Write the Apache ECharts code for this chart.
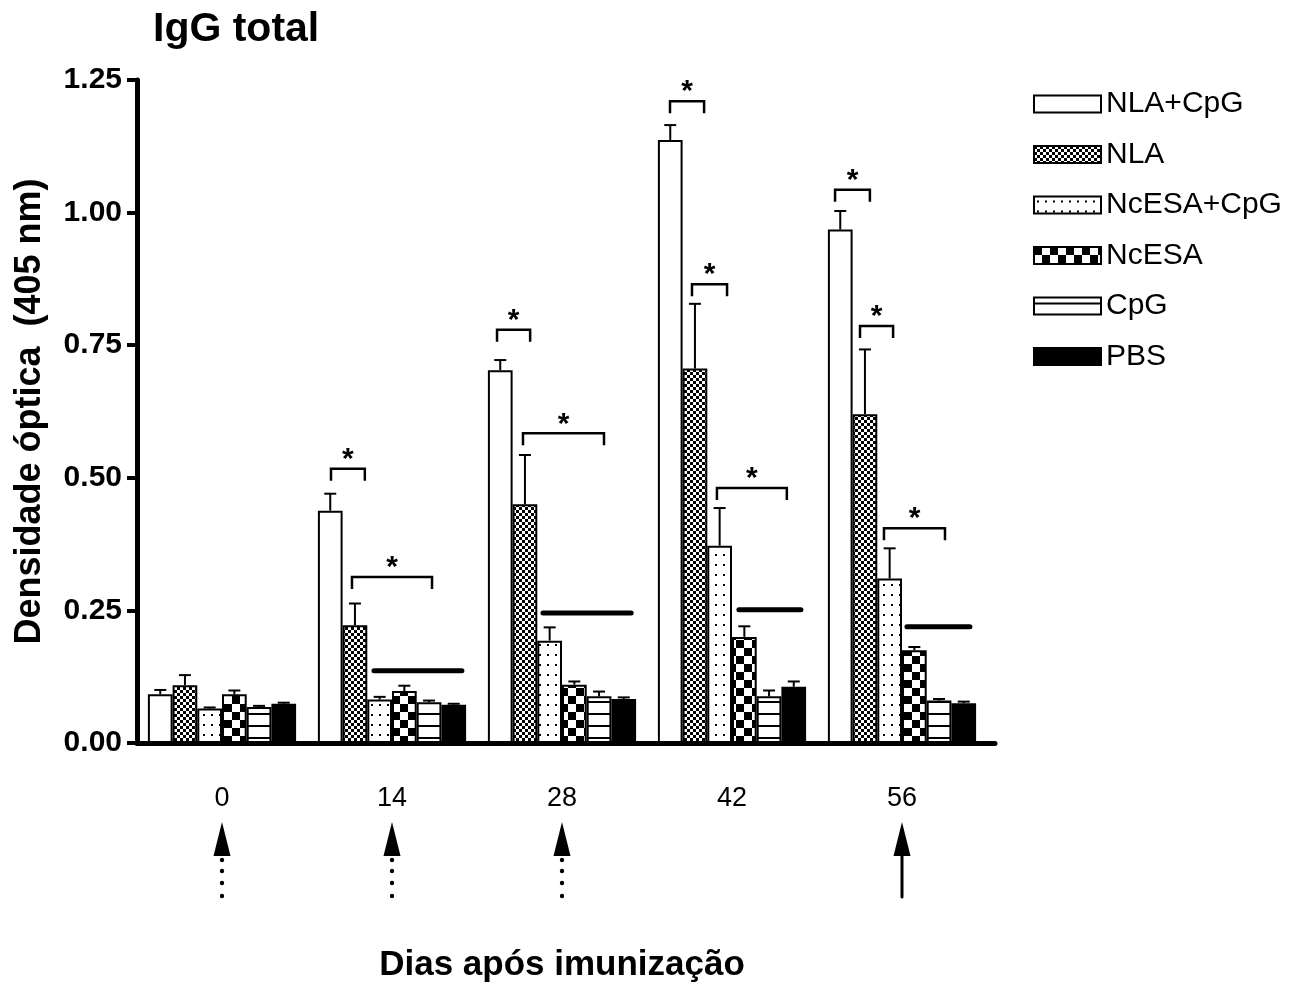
<!DOCTYPE html>
<html>
<head>
<meta charset="utf-8">
<script src="https://cdn.jsdelivr.net/npm/echarts@6/dist/echarts.min.js"></script>
<style>
  html, body { margin: 0; padding: 0; background: #fff; }
  #chart { width: 1299px; height: 982px; }
</style>
</head>
<body>
<div id="chart"></div>
<script>
// ---- data ----
const days = ['0', '14', '28', '42', '56'];
const groupNames = ['NLA+CpG', 'NLA', 'NcESA+CpG', 'NcESA', 'CpG', 'PBS'];

// mean optical density (405 nm) per group, one value per day
const nlaCpg    = [0.092, 0.438, 0.703, 1.137, 0.968];
const nla       = [0.109, 0.222, 0.450, 0.706, 0.620];
const ncesaCpg  = [0.065, 0.082, 0.193, 0.372, 0.310];
const ncesa     = [0.092, 0.098, 0.110, 0.200, 0.175];
const cpg       = [0.068, 0.077, 0.088, 0.088, 0.080];
const pbs       = [0.074, 0.072, 0.083, 0.106, 0.075];

// upper error (standard error) per group, one value per day
const nlaCpgErr   = [0.008, 0.032, 0.019, 0.028, 0.035];
const nlaErr      = [0.019, 0.041, 0.093, 0.122, 0.122];
const ncesaCpgErr = [0.002, 0.005, 0.025, 0.071, 0.057];
const ncesaErr    = [0.007, 0.010, 0.006, 0.020, 0.006];
const cpgErr      = [0.002, 0.003, 0.009, 0.011, 0.003];
const pbsErr      = [0.002, 0.002, 0.003, 0.010, 0.003];

// significance brackets: [day index, from bar slot, to bar slot, height (OD)]
const brackets = [
  [1, 0.53, 1.90, 0.517], [1, 1.38, 4.62, 0.313],
  [2, 0.37, 1.71, 0.779], [2, 1.42, 4.70, 0.584],
  [3, 0.49, 1.87, 1.210], [3, 1.38, 2.80, 0.865], [3, 2.39, 5.22, 0.481],
  [4, 0.29, 1.70, 1.043], [4, 1.30, 2.64, 0.786], [4, 2.27, 4.74, 0.405]
];
// plain grouping lines: [day index, from bar slot, to bar slot, height (OD)]
const groupLines = [
  [1, 2.27, 5.83, 0.136],
  [2, 2.23, 5.80, 0.245],
  [3, 3.28, 5.79, 0.251],
  [4, 3.20, 5.75, 0.219]
];
// immunization arrows: day index and whether the shaft is dotted (1) or solid (0)
const arrowDays   = [0, 1, 2, 4];
const arrowDotted = [1, 1, 1, 0];

// ---- styling helpers ----
const FONT = 'Liberation Sans, Arial, Helvetica, sans-serif';
const BAR_W = 24.7;

function pattern(w, h, draw) {
  const c = document.createElement('canvas');
  c.width = w; c.height = h;
  const g = c.getContext('2d');
  g.fillStyle = '#fff'; g.fillRect(0, 0, w, h);
  g.fillStyle = '#000';
  draw(g);
  return { image: c, repeat: 'repeat' };
}
const fills = [
  '#ffffff',
  pattern(6, 6, g => { g.fillRect(0, 0, 3, 3); g.fillRect(3, 3, 3, 3); }),
  pattern(8, 10, g => { g.fillRect(3, 4, 2, 2); }),
  pattern(16, 16, g => { g.fillRect(0, 0, 8, 8); g.fillRect(8, 8, 8, 8); }),
  pattern(4, 12, g => { g.fillRect(0, 5, 4, 2); }),
  '#000000'
];

const means = [nlaCpg, nla, ncesaCpg, ncesa, cpg, pbs];
const errs  = [nlaCpgErr, nlaErr, ncesaCpgErr, ncesaErr, cpgErr, pbsErr];

const barSeries = groupNames.map((name, i) => ({
  type: 'bar',
  name: name,
  data: means[i],
  barWidth: BAR_W,
  barGap: '0%',
  itemStyle: { color: fills[i], borderColor: '#000', borderWidth: 2 },
  z: 2
}));

const errData = [];
means.forEach((m, s) => m.forEach((v, c) => errData.push([c, s, v, v + errs[s][c]])));

const errorSeries = {
  type: 'custom',
  name: 'err',
  data: errData,
  encode: { x: 0, y: 3 },
  z: 3,
  silent: true,
  renderItem: function (params, api) {
    const c = api.value(0), s = api.value(1);
    const base = api.coord([c, api.value(2)]);
    const top = api.coord([c, api.value(3)]);
    const x = base[0] + (s - 2.5) * BAR_W;
    const st = { stroke: '#000', lineWidth: 2 };
    return {
      type: 'group',
      children: [
        { type: 'line', shape: { x1: x, y1: base[1], x2: x, y2: top[1] }, style: st },
        { type: 'line', shape: { x1: x - 6, y1: top[1], x2: x + 6, y2: top[1] }, style: st }
      ]
    };
  }
};

const bracketSeries = {
  type: 'custom',
  name: 'brackets',
  data: brackets,
  encode: { x: 0, y: 3 },
  z: 4,
  silent: true,
  renderItem: function (params, api) {
    const p = api.coord([api.value(0), api.value(3)]);
    const left = p[0] - 3 * BAR_W;
    const x1 = left + api.value(1) * BAR_W;
    const x2 = left + api.value(2) * BAR_W;
    const y = p[1];
    return {
      type: 'group',
      children: [
        { type: 'polyline', shape: { points: [[x1, y + 12], [x1, y], [x2, y], [x2, y + 12]] },
          style: { stroke: '#000', lineWidth: 2.5, fill: null } },
        { type: 'text', x: (x1 + x2) / 2, y: y + 6,
          style: { text: '*', font: 'bold 30px ' + FONT, fill: '#000', align: 'center', verticalAlign: 'bottom' } }
      ]
    };
  }
};

const lineSeries = {
  type: 'custom',
  name: 'lines',
  data: groupLines,
  encode: { x: 0, y: 3 },
  z: 4,
  silent: true,
  renderItem: function (params, api) {
    const p = api.coord([api.value(0), api.value(3)]);
    const left = p[0] - 3 * BAR_W;
    return {
      type: 'line',
      shape: { x1: left + api.value(1) * BAR_W, y1: p[1], x2: left + api.value(2) * BAR_W, y2: p[1] },
      style: { stroke: '#000', lineWidth: 5, lineCap: 'round' }
    };
  }
};

const arrowSeries = {
  type: 'custom',
  name: 'arrows',
  data: arrowDays.map((d, i) => [d, 0, arrowDotted[i]]),
  encode: { x: 0, y: 1 },
  clip: false,
  silent: true,
  renderItem: function (params, api) {
    const p = api.coord([api.value(0), 0]);
    const x = p[0], y0 = p[1];
    const children = [
      { type: 'polygon', shape: { points: [[x, y0 + 79], [x - 8.5, y0 + 113], [x + 8.5, y0 + 113]] },
        style: { fill: '#000' } }
    ];
    if (api.value(2) === 1) {
      [117, 128, 140, 153].forEach(o => children.push(
        { type: 'circle', shape: { cx: x, cy: y0 + o, r: 2.2 }, style: { fill: '#000' } }));
    } else {
      children.push({ type: 'line', shape: { x1: x, y1: y0 + 110, x2: x, y2: y0 + 154 },
        style: { stroke: '#000', lineWidth: 3, lineCap: 'round' } });
    }
    return { type: 'group', children: children };
  }
};

const chart = echarts.init(document.getElementById('chart'), null, { renderer: 'canvas' });
chart.setOption({
  animation: false,
  backgroundColor: '#fff',
  title: {
    text: 'IgG total',
    left: 148, top: 4,
    textStyle: { fontFamily: FONT, fontWeight: 'bold', fontSize: 41, color: '#000' }
  },
  legend: {
    data: groupNames,
    orient: 'vertical',
    left: 1028, top: 84,
    itemWidth: 67, itemHeight: 17,
    itemGap: 20.5,
    icon: 'rect',
    itemStyle: { borderColor: '#000', borderWidth: 2 },
    textStyle: { fontFamily: FONT, fontSize: 30, lineHeight: 30, color: '#000' }
  },
  grid: [
    { left: 137, top: 80, width: 850, bottom: 239, outerBoundsMode: 'none', containLabel: false },
    { left: 137, top: 80, width: 858, bottom: 239, outerBoundsMode: 'none', containLabel: false }
  ],
  xAxis: [
    {
      type: 'category', gridIndex: 0, data: days,
      axisLine: { show: false }, axisTick: { show: false },
      axisLabel: { margin: 42, fontFamily: FONT, fontSize: 27, color: '#000' },
      name: 'Dias após imunização', nameLocation: 'middle', nameGap: 205,
      nameTextStyle: { fontFamily: FONT, fontWeight: 'bold', fontSize: 35, color: '#000' }
    },
    {
      type: 'value', gridIndex: 1, min: 0, max: 1,
      axisLine: { show: true, onZero: false, lineStyle: { color: '#000', width: 5 } },
      axisTick: { show: false }, axisLabel: { show: false }, splitLine: { show: false }
    }
  ],
  yAxis: [
    {
      type: 'value', gridIndex: 0, min: 0, max: 1.25, interval: 0.25,
      axisLine: { show: true, lineStyle: { color: '#000', width: 5 } },
      axisTick: { show: true, length: 10, lineStyle: { color: '#000', width: 4 } },
      splitLine: { show: false },
      axisLabel: {
        margin: 15, fontFamily: FONT, fontWeight: 'bold', fontSize: 30, color: '#000',
        formatter: v => v.toFixed(2)
      },
      name: 'Densidade óptica  (405 nm)', nameLocation: 'middle', nameRotate: 90, nameGap: 89,
      nameTextStyle: { fontFamily: FONT, fontWeight: 'bold', fontSize: 36, color: '#000' }
    },
    { type: 'value', gridIndex: 1, min: 0, max: 1, show: false }
  ],
  series: barSeries.concat([errorSeries, bracketSeries, lineSeries, arrowSeries])
});
</script>
</body>
</html>
